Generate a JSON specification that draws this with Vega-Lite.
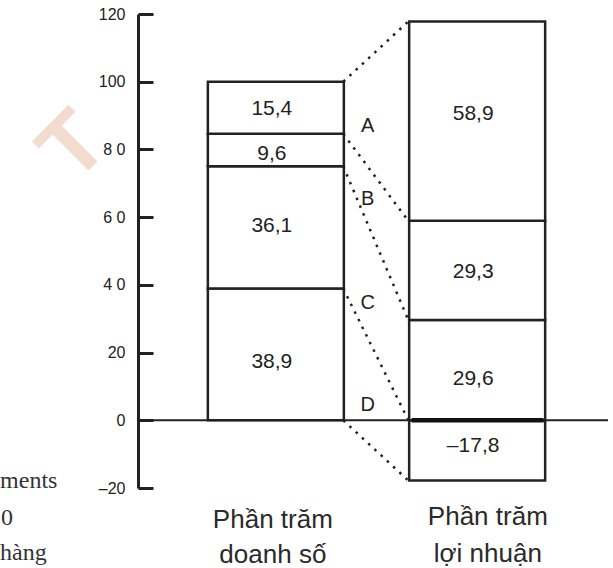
{
  "$schema": "https://vega.github.io/schema/vega-lite/v6.json",
  "autosize": {"type": "none"},
  "padding": {"left": 138, "top": 14, "right": 0, "bottom": 80},
  "width": 475,
  "height": 474,
  "background": "white",
  "config": {
    "view": {"stroke": null},
    "axis": {"grid": false}
  },
  "datasets": {
    "segments": [
      {"chart": "Phần trăm doanh số", "pos": 1, "seg": "D", "from": 0, "to": 38.9, "label": "38,9", "labelAt": 17.3},
      {"chart": "Phần trăm doanh số", "pos": 1, "seg": "C", "from": 38.9, "to": 75, "label": "36,1", "labelAt": 57.4},
      {"chart": "Phần trăm doanh số", "pos": 1, "seg": "B", "from": 75, "to": 84.6, "label": "9,6", "labelAt": 78.6},
      {"chart": "Phần trăm doanh số", "pos": 1, "seg": "A", "from": 84.6, "to": 100, "label": "15,4", "labelAt": 92},
      {"chart": "Phần trăm lợi nhuận", "pos": 2, "seg": "D", "from": -17.8, "to": 0, "label": "–17,8", "labelAt": -7.5},
      {"chart": "Phần trăm lợi nhuận", "pos": 2, "seg": "C", "from": 0, "to": 29.6, "label": "29,6", "labelAt": 12.2},
      {"chart": "Phần trăm lợi nhuận", "pos": 2, "seg": "B", "from": 29.6, "to": 58.9, "label": "29,3", "labelAt": 43.8},
      {"chart": "Phần trăm lợi nhuận", "pos": 2, "seg": "A", "from": 58.9, "to": 117.8, "label": "58,9", "labelAt": 90.4}
    ],
    "links": [
      {"sales": 100, "profit": 117.8},
      {"sales": 84.6, "profit": 58.9},
      {"sales": 75, "profit": 29.6},
      {"sales": 38.9, "profit": 0},
      {"sales": 0, "profit": -17.8}
    ],
    "letters": [
      {"letter": "A", "at": 86.9},
      {"letter": "B", "at": 65.3},
      {"letter": "C", "at": 34.7},
      {"letter": "D", "at": 4.5}
    ],
    "captions": [
      {"text": "Phần trăm", "x": 0.985, "y": -31.8},
      {"text": "doanh số", "x": 0.985, "y": -42.1},
      {"text": "Phần trăm", "x": 2.053, "y": -30.9},
      {"text": "lợi nhuận", "x": 2.053, "y": -41.8}
    ],
    "cut": [
      {"text": "ments", "x": -0.37, "y": -19.9},
      {"text": "0", "x": -0.365, "y": -30.9},
      {"text": "hàng", "x": -0.37, "y": -41.2}
    ],
    "mark": [
      {"text": "T", "x": 0.0, "y": 80.5}
    ]
  },
  "layer": [
    {
      "data": {"name": "mark"},
      "mark": {"type": "text", "font": "Liberation Sans", "fontWeight": "bold", "fontSize": 88, "angle": 315, "color": "#f2dccf", "align": "center", "baseline": "middle"},
      "encoding": {
        "x": {"field": "x", "type": "quantitative", "scale": {"domain": [0.34, 2.65], "nice": false, "zero": false}, "axis": null},
        "y": {"field": "y", "type": "quantitative", "scale": {"domain": [-20, 120], "nice": false, "zero": false},
          "axis": {
            "values": [-20, 0, 20, 40, 60, 80, 100, 120],
            "labelExpr": "datum.value == 80 ? '8 0' : datum.value == 60 ? '6 0' : datum.value == 40 ? '4 0' : datum.value == -20 ? '–20' : datum.label",
            "title": null,
            "domainColor": "#222",
            "domainWidth": 3,
            "tickColor": "#222",
            "tickWidth": 3,
            "tickSize": -15,
            "labelPadding": 28,
            "labelFont": "Liberation Sans",
            "labelFontSize": 16,
            "labelColor": "#222"
          }
        },
        "text": {"field": "text"}
      }
    },
    {
      "data": {"name": "segments"},
      "mark": {"type": "bar", "width": 136, "fill": "white", "stroke": "#222", "strokeWidth": 2.5},
      "encoding": {
        "x": {"field": "pos", "type": "quantitative", "axis": null},
        "y": {"field": "from", "type": "quantitative"},
        "y2": {"field": "to"}
      }
    },
    {
      "data": {"name": "segments"},
      "mark": {"type": "text", "font": "Liberation Sans", "fontSize": 21, "color": "#222", "dx": -4, "baseline": "middle"},
      "encoding": {
        "x": {"field": "pos", "type": "quantitative", "axis": null},
        "y": {"field": "labelAt", "type": "quantitative"},
        "text": {"field": "label"}
      }
    },
    {
      "data": {"values": [{"v": 0}]},
      "mark": {"type": "rule", "color": "#222", "strokeWidth": 2},
      "encoding": {
        "x": {"datum": 0.34, "type": "quantitative", "axis": null},
        "x2": {"datum": 2.65},
        "y": {"field": "v", "type": "quantitative"}
      }
    },
    {
      "data": {"values": [{"v": 0}]},
      "mark": {"type": "rule", "color": "#111", "strokeWidth": 4.5},
      "encoding": {
        "x": {"datum": 1.675, "type": "quantitative", "axis": null},
        "x2": {"datum": 2.33},
        "y": {"field": "v", "type": "quantitative"}
      }
    },
    {
      "data": {"name": "links"},
      "mark": {"type": "rule", "color": "#222", "strokeWidth": 2.5, "strokeDash": [2.5, 6]},
      "encoding": {
        "x": {"datum": 1.335, "type": "quantitative", "axis": null},
        "x2": {"datum": 1.658},
        "y": {"field": "sales", "type": "quantitative"},
        "y2": {"field": "profit"}
      }
    },
    {
      "data": {"name": "letters"},
      "mark": {"type": "text", "font": "Liberation Sans", "fontSize": 20, "color": "#222", "baseline": "middle"},
      "encoding": {
        "x": {"datum": 1.456, "type": "quantitative", "axis": null},
        "y": {"field": "at", "type": "quantitative"},
        "text": {"field": "letter"}
      }
    },
    {
      "data": {"name": "captions"},
      "mark": {"type": "text", "font": "Liberation Sans", "fontSize": 26, "color": "#2a2a2a", "baseline": "alphabetic"},
      "encoding": {
        "x": {"field": "x", "type": "quantitative", "axis": null},
        "y": {"field": "y", "type": "quantitative"},
        "text": {"field": "text"}
      }
    },
    {
      "data": {"name": "cut"},
      "mark": {"type": "text", "font": "Liberation Serif", "fontSize": 24, "color": "#333", "align": "left", "baseline": "alphabetic"},
      "encoding": {
        "x": {"field": "x", "type": "quantitative", "axis": null},
        "y": {"field": "y", "type": "quantitative"},
        "text": {"field": "text"}
      }
    }
  ]
}
